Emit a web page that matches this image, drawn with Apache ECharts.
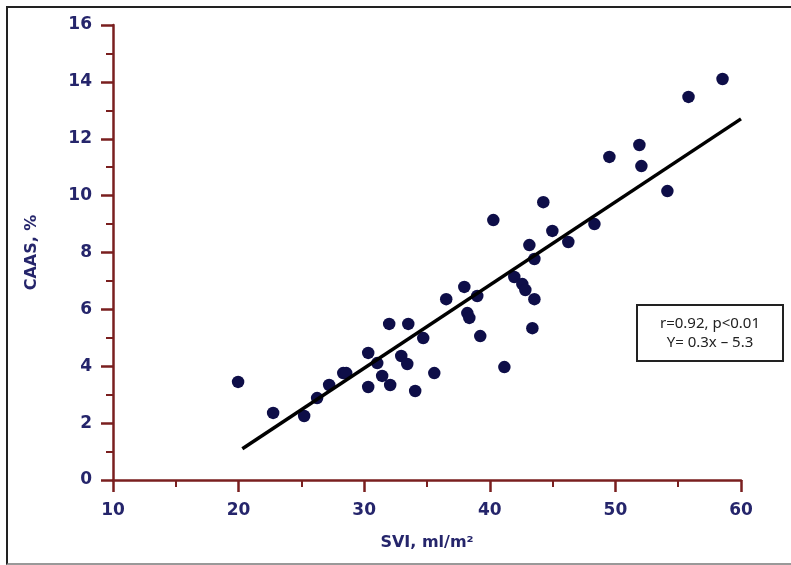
<!DOCTYPE html>
<html>
<head>
<meta charset="utf-8">
<script src="https://cdn.jsdelivr.net/npm/echarts@6/dist/echarts.min.js"></script>
<style>
  html, body { margin: 0; padding: 0; background: #fff; }
  #chart { position: absolute; left: 0; top: 0; width: 791px; height: 565px; }
  #frame {
    position: absolute; left: 6px; top: 6px; width: 790px; height: 555px;
    border-top: 2px solid #222; border-left: 2px solid #222; border-bottom: 2px solid #999;
    pointer-events: none;
  }
</style>
</head>
<body>
<div id="chart"></div>
<div id="frame"></div>
<script>
var svi = [19.96, 22.75, 25.22, 26.25, 27.21, 28.33, 28.57, 30.32, 30.32, 31.04, 31.43,
  32.07, 31.99, 32.95, 33.43, 33.51, 34.06, 34.70, 35.58, 36.53, 37.97, 38.21, 38.37,
  39.00, 39.24, 40.28, 41.16, 41.95, 42.59, 42.83, 43.15, 43.55, 43.55, 43.39, 44.26,
  44.98, 46.25, 48.33, 49.52, 51.91, 52.07, 54.14, 55.82, 58.53];
var caas = [3.45, 2.36, 2.25, 2.88, 3.34, 3.76, 3.76, 4.47, 3.27, 4.11, 3.66,
  3.34, 5.49, 4.36, 4.08, 5.49, 3.13, 4.99, 3.76, 6.36, 6.79, 5.87, 5.70,
  6.47, 5.06, 9.14, 3.97, 7.14, 6.89, 6.68, 8.26, 7.77, 6.36, 5.34, 9.77,
  8.76, 8.37, 9.00, 11.36, 11.78, 11.04, 10.16, 13.47, 14.10];

// regression line end points as drawn
var fitX = [20.3, 60];
var fitY = [1.1, 12.7];

var statsText = ["r=0.92, p<0.01", "Y= 0.3x \u2013 5.3"];

var axisColor = "#7a1f1f";
var textColor = "#25256b";
var labelFont = "DejaVu Sans, Liberation Sans, sans-serif";

var chart = echarts.init(document.getElementById("chart"), null, {renderer: "canvas"});

var points = svi.map(function (x, i) { return [x, caas[i]]; });
var fitLine = fitX.map(function (x, i) { return [x, fitY[i]]; });

function axisStyle() {
  return {
    axisLine: { show: true, onZero: false, lineStyle: { color: axisColor, width: 2.5 } },
    axisTick: { show: true, inside: false, length: 12, lineStyle: { color: axisColor, width: 2.5 } },
    minorTick: { show: true, splitNumber: 2, length: 7, lineStyle: { color: axisColor, width: 2 } },
    splitLine: { show: false },
    axisLabel: { color: textColor, fontSize: 17, fontWeight: "bold", fontFamily: labelFont },
    nameTextStyle: { color: textColor, fontSize: 16, fontWeight: "bold", fontFamily: labelFont }
  };
}

var xAxis = Object.assign(axisStyle(), {
  type: "value", min: 10, max: 60, interval: 10,
  name: "SVI, ml/m\u00b2", nameLocation: "middle", nameGap: 55
});
xAxis.axisLabel.margin = 22;

var yAxis = Object.assign(axisStyle(), {
  type: "value", min: 0, max: 16, interval: 2,
  name: "CAAS, %", nameLocation: "middle", nameGap: 73
});
yAxis.axisLabel.margin = 21;

chart.setOption({
  animation: false,
  backgroundColor: "#fff",
  grid: { left: 113, right: 50, top: 25, bottom: 85 },
  xAxis: xAxis,
  yAxis: yAxis,
  series: [
    {
      type: "scatter",
      data: points,
      symbolSize: 12.5,
      itemStyle: { color: "#0e0e48", opacity: 1 },
      z: 3
    },
    {
      type: "line",
      data: fitLine,
      symbol: "none",
      lineStyle: { color: "#000", width: 3.5 },
      z: 4
    }
  ],
  graphic: [
    {
      type: "rect",
      x: 637, y: 305,
      shape: { width: 146, height: 56 },
      style: { fill: "#fff", stroke: "#222", lineWidth: 2 }
    },
    {
      type: "text",
      x: 710, y: 314,
      style: {
        text: statsText.join("\n"),
        align: "center",
        verticalAlign: "top",
        fill: "#222",
        font: "15px 'Noto Sans', sans-serif",
        lineHeight: 19
      }
    }
  ]
});
</script>
</body>
</html>
